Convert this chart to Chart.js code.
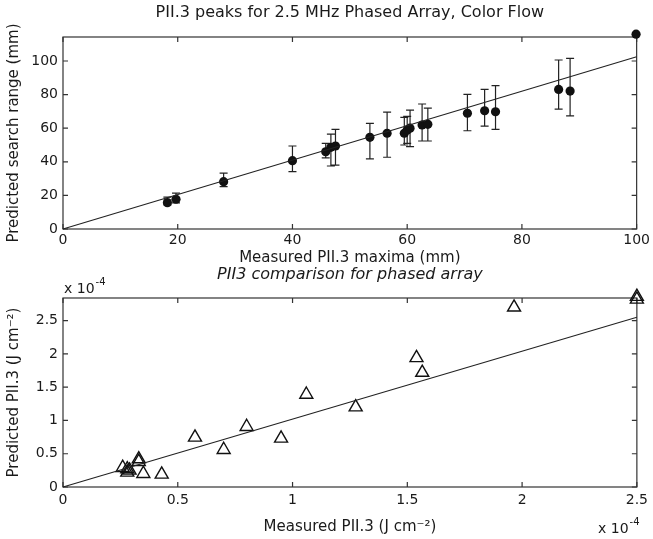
<!DOCTYPE html>
<html><head><meta charset="utf-8">
<script src="https://cdn.jsdelivr.net/npm/chart.js@4.4.0/dist/chart.umd.min.js"></script>
<style>
html,body{margin:0;padding:0;background:#fff;width:653px;height:539px;overflow:hidden}
#c1{position:absolute;left:0;top:0}
#c2{position:absolute;left:0;top:262px}
</style></head><body>
<canvas id="c1" width="653" height="270"></canvas>
<canvas id="c2" width="653" height="277"></canvas>
<script>
// ---- Top plot: PII.3 peaks (mm) ----
const peakMeasured  = [18.2, 19.7, 28.0, 40.0, 45.8, 46.7, 47.5, 53.5, 56.5, 59.5, 60.0, 60.5, 62.6, 63.6, 70.5, 73.5, 75.4, 86.4, 88.4, 99.9];
const peakPredicted = [15.7, 17.7, 28.2, 40.7, 46.0, 48.6, 49.4, 54.6, 57.0, 57.0, 59.0, 60.0, 61.9, 62.3, 68.9, 70.4, 69.8, 83.1, 82.1, 116.0];
const peakErrLow    = [14.3, 15.5, 25.2, 34.1, 42.4, 37.5, 38.0, 41.7, 42.7, 50.0, 51.0, 49.0, 52.4, 52.4, 58.5, 61.3, 59.3, 71.4, 67.3, null];
const peakErrHigh   = [19.0, 21.4, 33.3, 49.4, 51.0, 56.5, 59.3, 62.9, 69.6, 66.5, 67.0, 70.8, 74.4, 72.0, 80.2, 83.1, 85.3, 100.6, 101.6, null];
const peakFitX = [0, 100];
const peakFitY = [0, 102.5];
const peakXTicks = [0, 20, 40, 60, 80, 100];
const peakYTicks = [0, 20, 40, 60, 80, 100];

// ---- Bottom plot: PII3 comparison (units of 1e-4 J cm^-2) ----
const piiMeasured  = [0.26, 0.28, 0.29, 0.28, 0.33, 0.33, 0.35, 0.43, 0.575, 0.70, 0.80, 0.95, 1.06, 1.275, 1.54, 1.565, 1.965, 2.5, 2.5];
const piiPredicted = [0.29, 0.22, 0.25, 0.27, 0.42, 0.38, 0.20, 0.19, 0.745, 0.56, 0.905, 0.73, 1.39, 1.20, 1.94, 1.72, 2.70, 2.86, 2.82];
const piiFitX = [0, 2.5];
const piiFitY = [0, 2.55];
const piiXTicks = [0, 0.5, 1, 1.5, 2, 2.5];
const piiYTicks = [0, 0.5, 1, 1.5, 2, 2.5];

const FONT = 'DejaVu Sans';
const INK = '#1a1a1a';
Chart.defaults.font.family = FONT;
Chart.defaults.color = INK;

const framePlugin = {
  id: 'frame',
  beforeDatasetsDraw(chart, args, opts) {
    const {ctx, chartArea: a, scales: {x, y}} = chart;
    ctx.save();
    ctx.strokeStyle = '#333';
    ctx.lineWidth = 1.2;
    ctx.strokeRect(a.left, a.top, a.right - a.left, a.bottom - a.top);
    const L = 5;
    ctx.beginPath();
    x.ticks.forEach(t => {
      const px = x.getPixelForValue(t.value);
      ctx.moveTo(px, a.bottom); ctx.lineTo(px, a.bottom - L);
      ctx.moveTo(px, a.top); ctx.lineTo(px, a.top + L);
    });
    y.ticks.forEach(t => {
      const py = y.getPixelForValue(t.value);
      ctx.moveTo(a.left, py); ctx.lineTo(a.left + L, py);
      ctx.moveTo(a.right, py); ctx.lineTo(a.right - L, py);
    });
    ctx.stroke();
    if (opts.errX) {
      ctx.strokeStyle = '#222';
      ctx.lineWidth = 1.2;
      ctx.beginPath();
      opts.errX.forEach((xv, i) => {
        const lo = opts.errLo[i], hi = opts.errHi[i];
        if (lo == null || hi == null) return;
        const px = x.getPixelForValue(xv);
        const pl = y.getPixelForValue(lo), ph = y.getPixelForValue(hi);
        const c = 4;
        ctx.moveTo(px, pl); ctx.lineTo(px, ph);
        ctx.moveTo(px - c, pl); ctx.lineTo(px + c, pl);
        ctx.moveTo(px - c, ph); ctx.lineTo(px + c, ph);
      });
      ctx.stroke();
    }
    ctx.restore();
  },
  afterDraw(chart, args, opts) {
    if (!opts.exps) return;
    const {ctx} = chart;
    ctx.save();
    ctx.fillStyle = INK;
    ctx.textBaseline = 'alphabetic';
    opts.exps.forEach(e => {
      ctx.font = '14px "' + FONT + '"';
      ctx.textAlign = 'left';
      ctx.fillText('x 10', e.x, e.y);
      const w = ctx.measureText('x 10').width;
      ctx.font = '10px "' + FONT + '"';
      ctx.fillText('-4', e.x + w + 1, e.y - 8);
    });
    ctx.restore();
  }
};
Chart.register(framePlugin);

function makeOpts(cfg) {
  return {
    responsive: false,
    animation: false,
    events: [],
    layout: {padding: {left: 0, right: 12, top: 0, bottom: 0}},
    plugins: {
      legend: {display: false},
      tooltip: {enabled: false},
      title: {
        display: true, text: cfg.title, color: INK, fullSize: false,
        font: {family: FONT, size: 16, weight: 'normal', style: cfg.titleStyle || 'normal'},
        padding: cfg.titlePad
      },
      frame: cfg.frame
    },
    scales: {
      x: {
        type: 'linear', min: cfg.xMin, max: cfg.xMax,
        grid: {display: false, drawTicks: false},
        border: {display: false},
        afterBuildTicks: s => { s.ticks = cfg.xTicks.map(v => ({value: v})); },
        afterFit: s => { s.height = cfg.xHeight; },
        ticks: {padding: cfg.xTickPad, font: {size: 14}, color: INK, maxRotation: 0, autoSkip: false,
                callback: v => String(v)},
        title: {display: true, text: cfg.xTitle, color: INK, font: {size: 15}, padding: {top: 0, bottom: 3}}
      },
      y: {
        type: 'linear', min: cfg.yMin, max: cfg.yMax,
        grid: {display: false, drawTicks: false},
        border: {display: false},
        afterBuildTicks: s => { s.ticks = cfg.yTicks.map(v => ({value: v})); },
        afterFit: s => { s.width = 63; },
        ticks: {padding: 5, font: {size: 14}, color: INK, autoSkip: false, callback: v => String(v)},
        title: {display: true, text: cfg.yTitle, color: INK, font: {size: 15}, padding: {top: 5, bottom: 0}}
      }
    }
  };
}

const toPts = (xs, ys) => xs.map((v, i) => ({x: v, y: ys[i]}));

new Chart(document.getElementById('c1'), {
  type: 'scatter',
  data: {
    datasets: [
      {type: 'line', data: toPts(peakFitX, peakFitY), borderColor: '#222', borderWidth: 1.1,
       pointRadius: 0, fill: false, clip: false},
      {data: toPts(peakMeasured, peakPredicted), pointRadius: 4.6, pointStyle: 'circle',
       backgroundColor: '#111', borderColor: '#111', borderWidth: 0, clip: false}
    ]
  },
  options: makeOpts({
    title: 'PII.3 peaks for 2.5 MHz Phased Array, Color Flow',
    titlePad: {top: 3, bottom: 14.8},
    xMin: 0, xMax: 100, yMin: 0, yMax: 114.3,
    xTicks: peakXTicks, yTicks: peakYTicks,
    xHeight: 41, xTickPad: 3,
    xTitle: 'Measured PII.3 maxima (mm)',
    yTitle: 'Predicted search range (mm)',
    frame: {errX: peakMeasured, errLo: peakErrLow, errHi: peakErrHigh}
  })
});

new Chart(document.getElementById('c2'), {
  type: 'scatter',
  data: {
    datasets: [
      {type: 'line', data: toPts(piiFitX, piiFitY), borderColor: '#222', borderWidth: 1.1,
       pointRadius: 0, fill: false, clip: false},
      {data: toPts(piiMeasured, piiPredicted), pointRadius: 7.5, pointStyle: 'triangle',
       backgroundColor: 'rgba(0,0,0,0)', borderColor: '#111', borderWidth: 1.4, clip: false}
    ]
  },
  options: makeOpts({
    title: 'PII3 comparison for phased array',
    titleStyle: 'italic',
    titlePad: {top: 3, bottom: 13.8},
    xMin: 0, xMax: 2.5, yMin: 0, yMax: 2.84,
    xTicks: piiXTicks, yTicks: piiYTicks,
    xHeight: 52, xTickPad: 5,
    xTitle: 'Measured PII.3 (J cm⁻²)',
    yTitle: 'Predicted PII.3 (J cm⁻²)',
    frame: {exps: [{x: 64, y: 31}, {x: 598, y: 271}]}
  })
});
</script>
</body></html>
